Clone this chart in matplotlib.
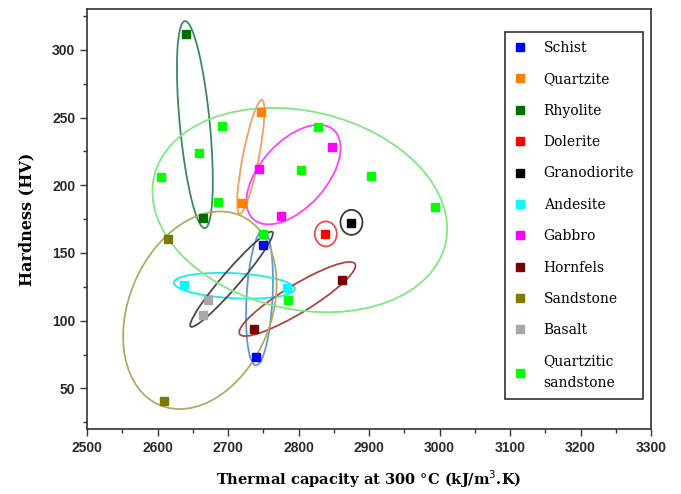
import matplotlib
matplotlib.use("Agg")
import matplotlib.pyplot as plt
from matplotlib.patches import Ellipse
from matplotlib.transforms import ScaledTranslation

# rock types, colours and measured points (thermal capacity, hardness)
rocks = ["Schist", "Quartzite", "Rhyolite", "Dolerite", "Granodiorite", "Andesite",
         "Gabbro", "Hornfels", "Sandstone", "Basalt", "Quartzitic\nsandstone"]
point_colors = ["#0000ff", "#ff8000", "#006e00", "#ff0000", "#000000", "#00ffff",
                "#ff00ff", "#7a0000", "#7a7a00", "#a8a8a8", "#00ff00"]

cap_schist = [2749, 2739]
hv_schist = [156, 73]
cap_quartzite = [2746, 2720]
hv_quartzite = [254, 187]
cap_rhyolite = [2640, 2664]
hv_rhyolite = [312, 176]
cap_dolerite = [2838]
hv_dolerite = [164]
cap_granodiorite = [2875]
hv_granodiorite = [172]
cap_andesite = [2638, 2783]
hv_andesite = [126, 124]
cap_gabbro = [2744, 2848, 2775]
hv_gabbro = [212, 228, 177]
cap_hornfels = [2862, 2736]
hv_hornfels = [130, 94]
cap_sandstone = [2614, 2609]
hv_sandstone = [160, 41]
cap_basalt = [2672, 2664]
hv_basalt = [115, 104]
cap_qsand = [2692, 2658, 2605, 2685, 2827, 2803, 2903, 2993, 2785, 2750]
hv_qsand = [244, 224, 206, 188, 243, 211, 207, 184, 115, 164]

caps = [cap_schist, cap_quartzite, cap_rhyolite, cap_dolerite, cap_granodiorite,
        cap_andesite, cap_gabbro, cap_hornfels, cap_sandstone, cap_basalt, cap_qsand]
hvs = [hv_schist, hv_quartzite, hv_rhyolite, hv_dolerite, hv_granodiorite,
       hv_andesite, hv_gabbro, hv_hornfels, hv_sandstone, hv_basalt, hv_qsand]

# group ellipses: centre in data units, axes (px) and tilt (deg) as drawn on screen
ell_cx = [2744.5, 2732.2, 2652.8, 2838.6, 2875.0, 2708.8, 2792.8, 2798.2, 2659.9, 2704.8, 2801.7]
ell_cy = [116.8, 221.0, 244.8, 164.1, 172.6, 125.8, 207.9, 116.0, 107.7, 130.6, 181.7]
ell_w = [135, 116, 208, 22, 22, 121, 120, 135, 206, 125, 299]
ell_h = [26, 16, 30, 25, 25, 25, 66, 28, 142, 17, 198]
ell_ang = [86.9, 78.9, 95.5, 0, 0, -3, 48, 31.3, 67, 49.2, -13]
ell_colors = ["#5b9bd5", "#f0a060", "#3c8a5c", "#e85050", "#3a3a3a", "#20e8f0",
              "#ff40ff", "#b04444", "#b4aa66", "#4a4a4a", "#80e880"]

plt.rcParams['font.family'] = ['DejaVu Serif']

fig = plt.figure(figsize=(6.81, 4.94), dpi=100)
ax = fig.add_axes([0.128, 0.1316, 0.828, 0.8496])

for i in range(len(rocks)):
    tr = fig.dpi_scale_trans + ScaledTranslation(ell_cx[i], ell_cy[i], ax.transData)
    e = Ellipse((0, 0), ell_w[i] / 100, ell_h[i] / 100, angle=ell_ang[i],
                fill=False, edgecolor=ell_colors[i], linewidth=1.3, transform=tr, zorder=2)
    ax.add_patch(e)

for i in range(len(rocks)):
    ax.plot(caps[i], hvs[i], linestyle="none", marker="s", markersize=5.5,
            color=point_colors[i], label=rocks[i], zorder=3)

ax.set_xlim(2500, 3300)
ax.set_ylim(20, 330)
ax.set_xticks(range(2500, 3301, 100))
ax.set_xticks(range(2550, 3300, 100), minor=True)
ax.set_yticks(range(50, 301, 50))
ax.set_yticks(range(25, 330, 50), minor=True)
ax.tick_params(which="major", direction="out", length=5, width=1, color="#333333")
ax.tick_params(which="minor", direction="out", length=3, width=1, color="#333333")
for lbl in ax.get_xticklabels() + ax.get_yticklabels():
    lbl.set_fontfamily("Liberation Sans")
    lbl.set_fontweight("bold")
    lbl.set_fontsize(10)
    lbl.set_color("#2a2a2a")
for sp in ax.spines.values():
    sp.set_color("#333333")
    sp.set_linewidth(1.2)

ax.set_xlabel("Thermal capacity at 300 °C (kJ/m$^3$.K)", fontsize=10.5, fontweight="bold", labelpad=10)
ax.set_ylabel("Hardness (HV)", fontsize=11.5, fontweight="bold", labelpad=12)

leg = ax.legend(loc="upper right", bbox_to_anchor=(0.986, 0.946), borderaxespad=0,
                fontsize=10, labelspacing=1.25, handlelength=0.8, handletextpad=1.3,
                borderpad=0.65, fancybox=False, framealpha=1, edgecolor="#333333",
                markerscale=1.15)
leg.get_frame().set_linewidth(1.2)
for t in leg.get_texts():
    t.set_linespacing(1.7)

fig.savefig("out.png", dpi=100)
